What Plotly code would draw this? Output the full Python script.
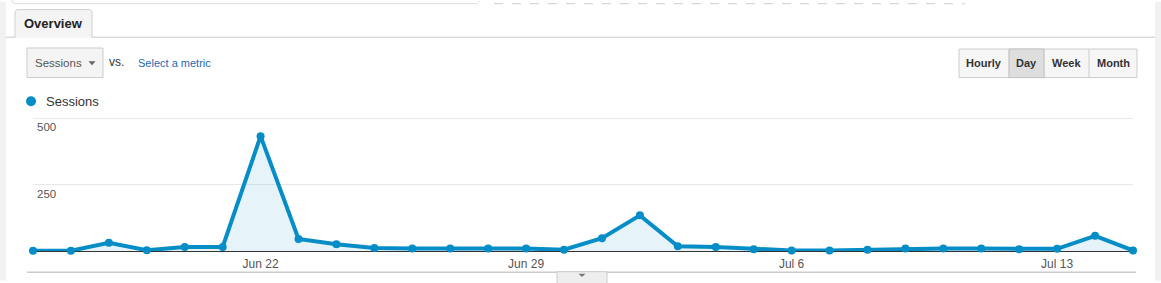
import plotly.graph_objects as go

# ---------------- data ----------------
dates = ["2014-06-16", "2014-06-17", "2014-06-18", "2014-06-19", "2014-06-20",
         "2014-06-21", "2014-06-22", "2014-06-23", "2014-06-24", "2014-06-25",
         "2014-06-26", "2014-06-27", "2014-06-28", "2014-06-29", "2014-06-30",
         "2014-07-01", "2014-07-02", "2014-07-03", "2014-07-04", "2014-07-05",
         "2014-07-06", "2014-07-07", "2014-07-08", "2014-07-09", "2014-07-10",
         "2014-07-11", "2014-07-12", "2014-07-13", "2014-07-14", "2014-07-15"]
sessions = [1, 1, 31, 3, 15, 15, 432, 45, 25, 11,
            9, 9, 9, 9, 5, 48, 134, 18, 15, 7,
            2, 2, 5, 9, 9, 9, 7, 8, 57, 2]
x_tick_vals = ["2014-06-22", "2014-06-29", "2014-07-06", "2014-07-13"]
x_tick_text = ["Jun 22", "Jun 29", "Jul 6", "Jul 13"]
y_tick_vals = [250, 500]
y_tick_text = ["250", "500"]
metric_name = "Sessions"
period_buttons = ["Hourly", "Day", "Week", "Month"]
selected_period = "Day"

# ---------------- layout geometry ----------------
W, H = 1161, 283
L, R = 33, 1133          # plot area x pixels
T, B = 117, 253          # plot area y pixels
FONT = "Liberation Sans, Arial, sans-serif"
BLUE = "#058dc7"


def px(x):
    return (x - L) / (R - L)


def py(y):
    return (B - y) / (B - T)


fig = go.Figure()
fig.add_trace(go.Scatter(
    x=dates, y=sessions, mode="lines+markers",
    line=dict(color=BLUE, width=4),
    marker=dict(color=BLUE, size=8),
    fill="tozeroy", fillcolor="rgba(5,141,199,0.1)",
    cliponaxis=False, hoverinfo="x+y", showlegend=False,
))

shapes = []
annotations = []


def rect(x0, y0, x1, y1, fill, line="rgba(0,0,0,0)", lw=1):
    shapes.append(dict(type="rect", xref="paper", yref="paper",
                       x0=px(x0), x1=px(x1), y0=py(y1), y1=py(y0),
                       fillcolor=fill, line=dict(color=line, width=lw), layer="above"))


def hline(x0, x1, y, color, lw=1, dash="solid"):
    shapes.append(dict(type="line", xref="paper", yref="paper",
                       x0=px(x0), x1=px(x1), y0=py(y), y1=py(y),
                       line=dict(color=color, width=lw, dash=dash), layer="above"))


def vline(x, y0, y1, color, lw=1):
    shapes.append(dict(type="line", xref="paper", yref="paper",
                       x0=px(x), x1=px(x), y0=py(y0), y1=py(y1),
                       line=dict(color=color, width=lw), layer="above"))


def path(points, fill, line="rgba(0,0,0,0)", lw=1, close=True):
    d = "M " + " L ".join(f"{px(a):.5f},{py(b):.5f}" for a, b in points)
    if close:
        d += " Z"
    shapes.append(dict(type="path", xref="paper", yref="paper", path=d,
                       fillcolor=fill, line=dict(color=line, width=lw), layer="above"))


def text(x, y, s, size=12, color="#333", anchor="left", bold=False):
    annotations.append(dict(xref="paper", yref="paper", x=px(x), y=py(y),
                            text=f"<b>{s}</b>" if bold else s, showarrow=False,
                            xanchor=anchor, yanchor="middle",
                            font=dict(family=FONT, size=size, color=color),
                            borderpad=0))


# side strips
rect(0, 0, 6, H, "#f1f1f1")
rect(1155, 0, W, H, "#f1f1f1")

# top boxes (cut off)
path([(12, -3), (12, 0), (15, 2), (477, 2), (480, -1)], "rgba(0,0,0,0)", "#dddddd", 1, close=False)
hline(494, 965, 2, "#cccccc", 1, "dash")

# tab
hline(6, 15, 36, "#c8c8c8")
hline(92, 1155, 36, "#c8c8c8")
path([(15, 36.5), (15, 10), (17, 8), (90, 8), (92, 10), (92, 36.5)], "#f4f4f4", "#d0d0d0", 1, close=False)
text(53.5, 22, "Overview", 13, "#222", "center", True)

# metric dropdown
rect(27, 47, 103, 77, "#f4f4f4", "#cccccc")
text(34, 62, metric_name, 11.5, "#555")
path([(88.5, 60.5), (95.5, 60.5), (92, 64.5)], "#666666")
text(108, 61, "vs.", 12, "#333")
text(137, 62, "Select a metric", 11, "#1f6ab1")

# period buttons
bx = [959, 1009, 1044, 1089, 1137]
rect(959, 48, 1137, 77, "#f6f6f6", "#cccccc")
for i, name in enumerate(period_buttons):
    if name == selected_period:
        rect(bx[i], 48, bx[i + 1], 77, "#dedede", "#c4c4c4")
for xb in bx[1:-1]:
    vline(xb, 48, 77, "#cccccc")
for i, name in enumerate(period_buttons):
    text((bx[i] + bx[i + 1]) / 2, 62.5, name, 11, "#333", "center", True)

# legend
shapes.append(dict(type="circle", xref="paper", yref="paper",
                   x0=px(26), x1=px(36), y0=py(106), y1=py(96),
                   fillcolor=BLUE, line=dict(color=BLUE, width=0), layer="above"))
text(45, 101.5, metric_name, 13, "#333")

# bottom line and handle
hline(27, 1136, 274.5, "#cccccc", 1.5)
rect(557, 274, 607, 292, "#eeeeee", "#cccccc")
path([(578.5, 276), (585.5, 276), (582, 279.5)], "#777777")

# y tick labels (below the gridlines, inside the plot)
for v, s in zip(y_tick_vals, y_tick_text):
    annotations.append(dict(xref="paper", yref="y", x=0, y=v, xshift=3, yshift=-2,
                            text=s, showarrow=False, xanchor="left", yanchor="top",
                            font=dict(family=FONT, size=11.5, color="#555"), borderpad=0))

fig.update_layout(
    width=W, height=H,
    margin=dict(l=L, r=W - R, t=T, b=H - B, pad=0),
    paper_bgcolor="white", plot_bgcolor="white",
    font=dict(family=FONT, size=12, color="#555"),
    shapes=shapes, annotations=annotations,
    showlegend=False,
    xaxis=dict(type="date", range=[dates[0], dates[-1]],
               tickvals=x_tick_vals, ticktext=x_tick_text,
               showgrid=False, zeroline=False, showline=False,
               ticks="outside", ticklen=2, tickcolor="rgba(0,0,0,0)",
               tickfont=dict(family=FONT, size=12, color="#555"), fixedrange=True),
    yaxis=dict(range=[0, 504], tickvals=y_tick_vals, showticklabels=False,
               showgrid=True, gridcolor="#e8e8e8", gridwidth=1,
               zeroline=True, zerolinecolor="#333", zerolinewidth=1,
               showline=False, fixedrange=True),
)

fig.write_html("out.html", config={"displayModeBar": False})
